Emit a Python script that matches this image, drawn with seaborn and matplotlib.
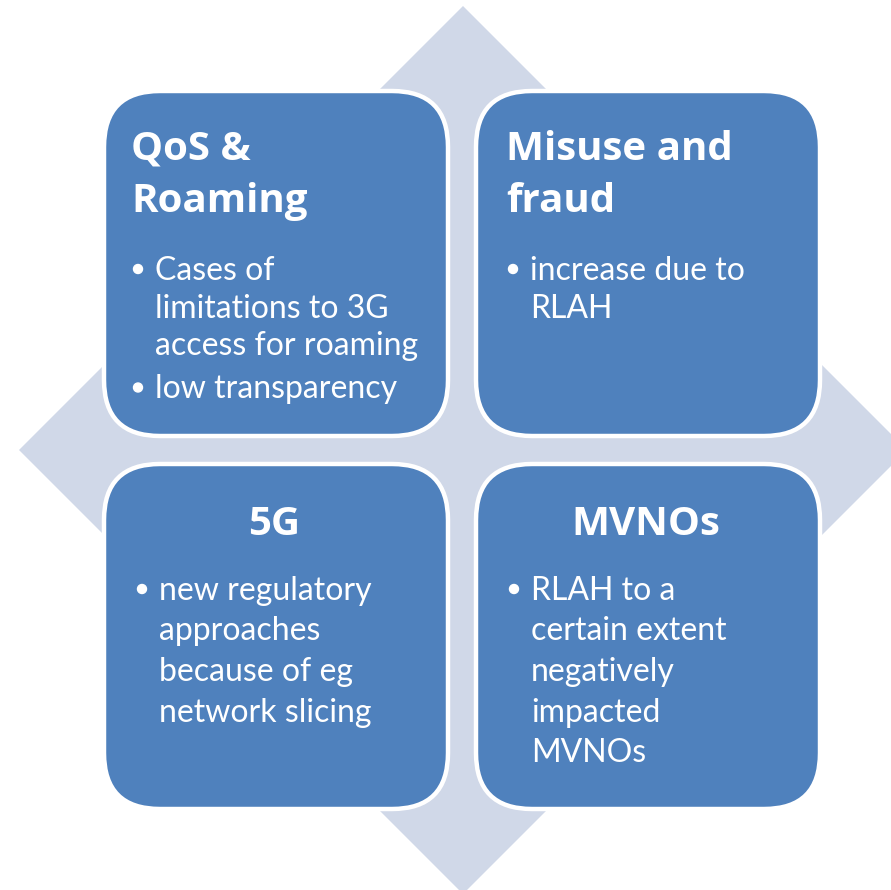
import matplotlib
matplotlib.use("Agg")
import matplotlib.pyplot as plt
from matplotlib.patches import FancyBboxPatch, Polygon, Circle
import seaborn as sns

# --- content of the four quadrants ---
titles = ["QoS &\nRoaming", "Misuse and\nfraud", "5G", "MVNOs"]
bullets = [
    [["Cases of", "limitations to 3G", "access for roaming"], ["low transparency"]],
    [["increase due to", "RLAH"]],
    [["new regulatory", "approaches", "because of eg", "network slicing"]],
    [["RLAH to a", "certain extent", "negatively", "impacted", "MVNOs"]],
]
title_align = ["left", "left", "center", "center"]

box_color = "#4F81BD"
diamond_color = "#D0D8E8"

sns.set_theme(style="white")
plt.rcParams["font.family"] = ["Lato", "DejaVu Sans"]

W, H = 891, 890
fig = plt.figure(figsize=(W / 100, H / 100), dpi=100)
ax = fig.add_axes([0, 0, 1, 1])
ax.set_xlim(0, W)
ax.set_ylim(H, 0)
ax.axis("off")

# background diamond
cx, cy, r = 463, 450, 444
ax.add_patch(Polygon([(cx - r, cy), (cx, cy - r), (cx + r, cy), (cx, cy + r)],
                     closed=True, facecolor=diamond_color, edgecolor="none", zorder=1))

# 2x2 grid of rounded boxes
box_x = [104, 476]
box_y = [91, 464]
bw, bh = 344, 345

for i in range(4):
    col, row = i % 2, i // 2
    x0, y0 = box_x[col], box_y[row]
    ax.add_patch(FancyBboxPatch((x0, y0), bw, bh,
                                boxstyle="round,pad=0,rounding_size=56",
                                facecolor=box_color, edgecolor="white",
                                linewidth=3.2, zorder=2))

    # title
    if title_align[i] == "left":
        tx, ha = x0 + 27 + col * 3, "left"
    else:
        tx, ha = x0 + bw / 2 - 2, "center"
    t_lines = titles[i].split("\n")
    ty = y0 + 69 if row == 0 else y0 + 71
    for k, line in enumerate(t_lines):
        ax.text(tx, ty + k * 52, line, color="white", fontsize=29,
                fontweight="bold", family=["Open Sans", "DejaVu Sans"],
                ha=ha, va="baseline", zorder=3)

    # bullet points
    if row == 0:
        by = y0 + 189
        step = 37.5
        bx = x0 + 34 + col * 3
    else:
        by = y0 + 136
        step = 40.5
        bx = x0 + 38
    for para in bullets[i]:
        ax.add_patch(Circle((bx, by - 11), 4.5, color="white", zorder=3))
        for line in para:
            ax.text(bx + 17, by, line, color="white", fontsize=23,
                    ha="left", va="baseline", zorder=3)
            by += step
        by += 6

fig.savefig("out.png", dpi=100)
